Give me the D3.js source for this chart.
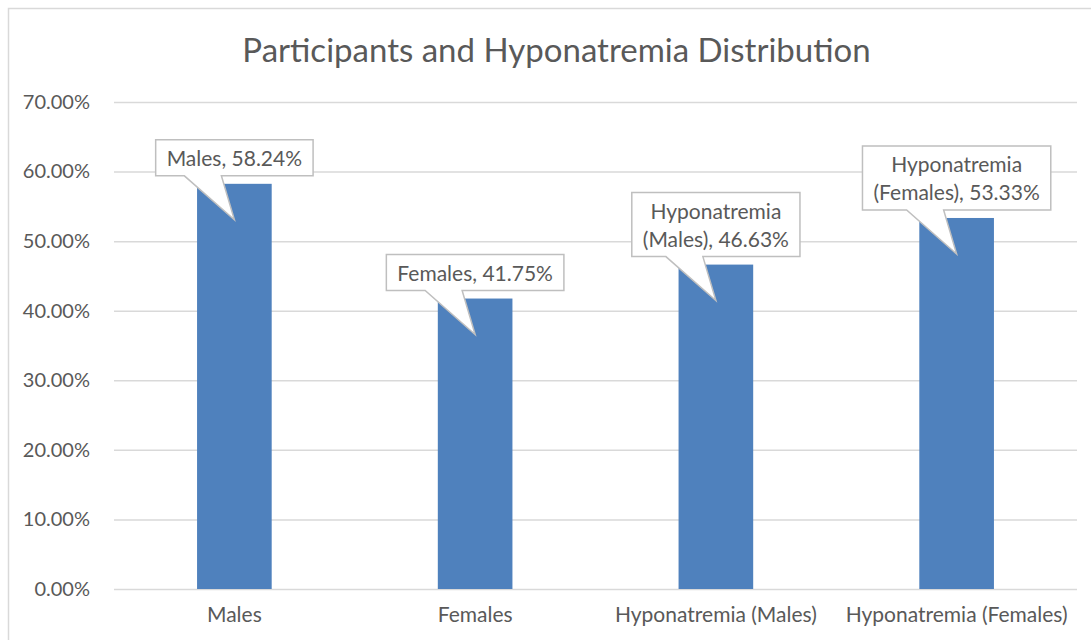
<!DOCTYPE html>
<html>
<head>
<meta charset="utf-8">
<script src="https://cdn.jsdelivr.net/npm/d3@7"></script>
<style>
  body { margin: 0; background: #fff; }
  text { font-family: Lato, "Open Sans", sans-serif; fill: #595959; }
</style>
</head>
<body>
<div id="chart"></div>
<script>
// chart data
const categories = ["Males", "Females", "Hyponatremia (Males)", "Hyponatremia (Females)"];
const values = [0.5824, 0.4175, 0.4663, 0.5333];
const labelLines = [
    ["Males, 58.24%"],
    ["Females, 41.75%"],
    ["Hyponatremia", "(Males), 46.63%"],
    ["Hyponatremia", "(Females), 53.33%"]
];
const yTicks = [0, 0.1, 0.2, 0.3, 0.4, 0.5, 0.6, 0.7];
const title = "Participants and Hyponatremia Distribution";

const W = 1091, H = 640;
const margin = { top: 102, right: 14, bottom: 51, left: 114 };
const width = W - margin.left - margin.right,
      height = H - margin.top - margin.bottom;

const svg = d3.select("#chart")
    .append("svg")
    .attr("width", W)
    .attr("height", H);

// chart border
svg.append("rect")
    .attr("x", 8.5).attr("y", 8.5)
    .attr("width", W + 10).attr("height", H + 10)
    .attr("fill", "none")
    .attr("stroke", "#d9d9d9")
    .attr("stroke-width", 1.5);

svg.append("text")
    .attr("x", W / 2 + 11)
    .attr("y", 62)
    .attr("text-anchor", "middle")
    .style("font-size", "33px")
    .text(title);

const g = svg.append("g")
    .attr("transform", `translate(${margin.left},${margin.top})`);

const x = d3.scaleBand()
    .domain(categories)
    .range([0, width])
    .paddingInner(0.69)
    .paddingOuter(0.345);

const y = d3.scaleLinear()
    .domain([0, 0.7])
    .range([height, 0]);

// gridlines
g.append("g")
    .selectAll("line")
    .data(yTicks)
    .join("line")
    .attr("x1", 0).attr("x2", width)
    .attr("y1", d => y(d) + 0.5).attr("y2", d => y(d) + 0.5)
    .attr("stroke", "#d9d9d9")
    .attr("stroke-width", 1.5);

// Y axis
const yAxis = g.append("g")
    .attr("transform", "translate(-21,0)")
    .call(d3.axisLeft(y).tickValues(yTicks).tickFormat(d3.format(".2%")).tickSize(0));
yAxis.select(".domain").remove();
yAxis.selectAll("text")
    .style("font-size", "20px")
    .style("font-family", "Lato, 'Open Sans', sans-serif")
    .attr("fill", "#595959");

// X axis
const xAxis = g.append("g")
    .attr("transform", `translate(0,${height})`)
    .call(d3.axisBottom(x).tickSize(0).tickPadding(18));
xAxis.select(".domain").remove();
xAxis.selectAll("text")
    .style("font-size", "21px")
    .style("font-family", "Lato, 'Open Sans', sans-serif")
    .attr("fill", "#595959");

// bars
g.selectAll(".bar")
    .data(categories)
    .join("rect")
    .attr("class", "bar")
    .attr("x", d => x(d))
    .attr("width", x.bandwidth())
    .attr("y", (d, i) => y(values[i]))
    .attr("height", (d, i) => height - y(values[i]))
    .attr("fill", "#4f81bd");

// callout labels
const lineH = 28;
categories.forEach((c, i) => {
    const cx = x(c) + x.bandwidth() / 2;
    const top = y(values[i]);
    const lines = labelLines[i];
    const lg = g.append("g");
    const shape = lg.append("path");
    const txt = lg.append("text")
        .attr("text-anchor", "middle")
        .style("font-size", "21px");
    lines.forEach((l, j) => {
        txt.append("tspan").attr("x", cx).attr("dy", j === 0 ? 0 : lineH).text(l);
    });
    const bw = txt.node().getBBox().width + 22;
    const bh = lines.length * 28 + 8;
    const bottom = top - 8;
    const bTop = bottom - bh;
    txt.attr("y", bTop + 26);
    const l = cx - bw / 2, r = cx + bw / 2;
    const tipX = cx, tipY = top + 36;
    const p = d3.path();
    p.moveTo(l, bTop);
    p.lineTo(r, bTop);
    p.lineTo(r, bottom);
    p.lineTo(cx - 13, bottom);
    p.lineTo(tipX, tipY);
    p.lineTo(cx - 50, bottom);
    p.lineTo(l, bottom);
    p.closePath();
    shape.attr("d", p.toString())
        .attr("fill", "#fff")
        .attr("stroke", "#bfbfbf")
        .attr("stroke-width", 1.5);
});
</script>
</body>
</html>
